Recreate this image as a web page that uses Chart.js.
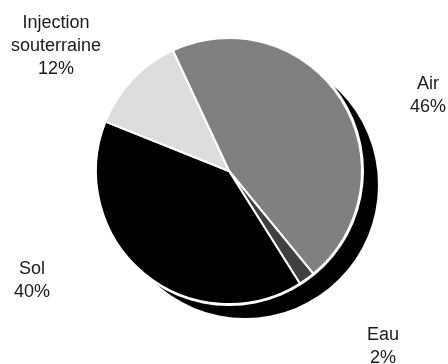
<!DOCTYPE html>
<html>
<head>
<meta charset="utf-8">
<script src="https://cdn.jsdelivr.net/npm/chart.js@4/dist/chart.umd.min.js"></script>
<style>
  html, body { margin: 0; padding: 0; background: #fff; }
  #wrap { width: 448px; height: 364px; }
</style>
</head>
<body>
<div id="wrap"><canvas id="pieChart" width="448" height="364"></canvas></div>
<script>
// data
let categories = ['Air', 'Eau', 'Sol', 'Injection souterraine']
let labelLines = [['Air', '46%'], ['Eau', '2%'], ['Sol', '40%'], ['Injection', 'souterraine', '12%']]
let shares = [46, 2, 40, 12]
let sliceColors = ['#808080', '#404040', '#000000', '#dddddd']

// where each label block sits (centre x, first line y)
const labelPos = [[428, 84], [383, 335], [32, 269], [56, 23]]
const lineHeight = 23

const shadowPie = {
    id: 'shadowPie',
    beforeDatasetsDraw(chart) {
        const arc = chart.getDatasetMeta(0).data[0]
        if (!arc) return
        const {ctx} = chart
        const r = arc.outerRadius
        ctx.save()
        ctx.fillStyle = '#000'
        ctx.beginPath()
        ctx.arc(arc.x + 16, arc.y + 14, r, 0, Math.PI * 2)
        ctx.fill()
        ctx.fillStyle = '#fff'
        ctx.beginPath()
        ctx.arc(arc.x, arc.y, r + 2, 0, Math.PI * 2)
        ctx.fill()
        ctx.restore()
    }
}

const outsideLabels = {
    id: 'outsideLabels',
    afterDatasetsDraw(chart) {
        const {ctx} = chart
        ctx.save()
        ctx.font = '18px "Liberation Sans", Arial, sans-serif'
        ctx.fillStyle = '#1a1a1a'
        ctx.textAlign = 'center'
        ctx.textBaseline = 'middle'
        labelLines.forEach((lines, i) => {
            const [x, y] = labelPos[i]
            lines.forEach((t, j) => ctx.fillText(t, x, y + j * lineHeight))
        })
        ctx.restore()
    }
}

let data = {
    labels: categories,
    datasets: [{
        data: shares,
        backgroundColor: sliceColors,
        borderColor: '#ffffff',
        borderWidth: 2
    }]
}

const config = {
    type: 'pie',
    data: data,
    plugins: [shadowPie, outsideLabels],
    options: {
        responsive: false,
        rotation: -25,
        layout: {
            padding: {top: 37, bottom: 59, left: 95, right: 85}
        },
        plugins: {
            legend: {display: false},
            tooltip: {enabled: false}
        },
        animation: {duration: 0}
    }
}

new Chart(document.getElementById('pieChart').getContext('2d'), config)
</script>
</body>
</html>
